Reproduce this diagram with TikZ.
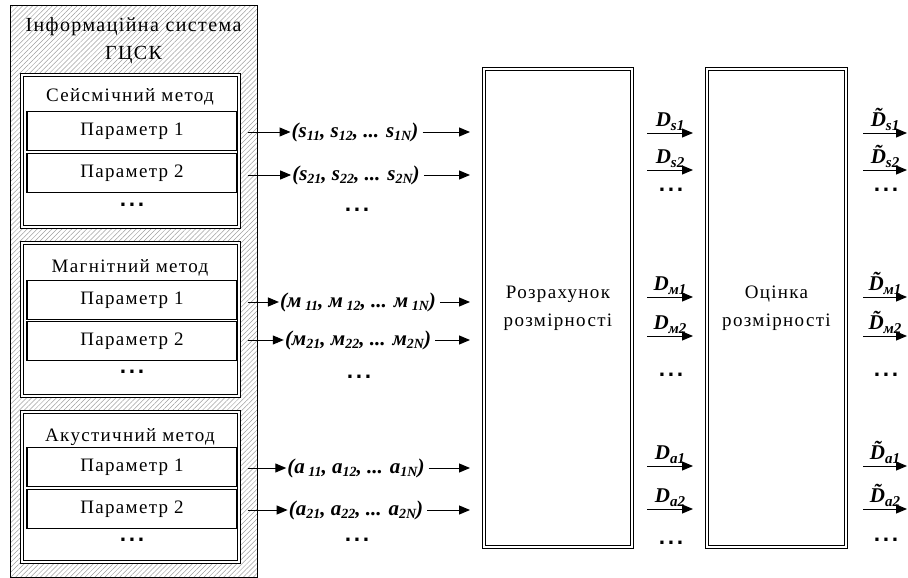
\documentclass[tikz,border=0pt]{standalone}
\usepackage{fontspec}
\setmainfont{Liberation Serif}[LetterSpace=7]
\newfontfamily\labfont{Liberation Serif}
\newfontfamily\dotfont{DejaVu Sans}[LetterSpace=12]
\usetikzlibrary{patterns.meta,arrows.meta}
\newcommand\sbs[1]{\raisebox{-0.4ex}{\fontsize{14}{14}\selectfont #1}}
\newcommand\dsb[1]{\raisebox{-0.45ex}{\fontsize{15}{15}\selectfont #1}}
\newcommand\tD{\~{D}}
\tikzset{
  outerbox/.style={draw, line width=0.8pt, pattern={Lines[angle=45,distance=3.5pt,line width=0.5pt]}, pattern color=gray!75, anchor=north west, inner sep=0pt},
  methodbox/.style={draw, line width=0.9pt, fill=white, anchor=north west, minimum width=220pt, inner sep=0pt},
  innerline/.style={draw, line width=0.9pt},
  parbox/.style={draw, line width=1.1pt, fill=white, minimum width=210pt, minimum height=39pt, font=\fontsize{19}{22}\selectfont},
  ttl/.style={font=\fontsize{19}{22}\selectfont},
  bigbox/.style={draw, line width=0.9pt, anchor=north west, align=center, font=\fontsize{19}{28}\selectfont, inner sep=0pt},
  lab/.style={font=\labfont\bfseries\itshape\fontsize{21}{23}\selectfont, inner sep=1pt},
  dlab/.style={font=\labfont\bfseries\itshape\fontsize{21}{23}\selectfont, inner sep=2pt, above},
  dots/.style={font=\dotfont\bfseries\fontsize{18}{18}\selectfont, inner sep=1pt},
  arr/.style={-{Triangle[length=11pt,width=9pt]}, line width=1pt}
}
\begin{document}
\begin{tikzpicture}[x=1pt,y=-1pt]
\useasboundingbox (0,0) rectangle (908,578);
% outer hatched system box
\node[outerbox, minimum width=247pt, minimum height=572pt] (sys) at (10,5) {};
\node[ttl, align=center, text width=240pt, font=\fontsize{20}{28}\selectfont] (systitle) at (133.5,41) {Інформаційна система\\ГЦСК};
% method boxes (double border)
\node[methodbox, minimum height=155pt] (m1) at (20,73) {};
\node[methodbox, minimum height=156pt] (m2) at (20,241) {};
\node[methodbox, minimum height=153pt] (m3) at (20,410) {};
\foreach \m in {m1,m2,m3}{
  \draw[innerline] ([shift={(3.5pt,-3.5pt)}]\m.north west) rectangle ([shift={(-3.5pt,3.5pt)}]\m.south east);
}
\node[ttl] (t1) at (130,97) {Сейсмічний метод};
\node[ttl] (t2) at (130,268) {Магнітний метод};
\node[ttl] (t3) at (130,437) {Акустичний метод};
\node[parbox] (p11) at (132,131) {Параметр 1};
\node[parbox] (p12) at (132,173) {Параметр 2};
\node[parbox] (p21) at (132,300) {Параметр 1};
\node[parbox] (p22) at (132,341) {Параметр 2};
\node[parbox] (p31) at (132,467) {Параметр 1};
\node[parbox] (p32) at (132,509) {Параметр 2};
\node[dots] (d1) at (132,205) {...};
\node[dots] (d2) at (132,372) {...};
\node[dots] (d3) at (132,540) {...};
% big boxes (double border)
\node[bigbox, minimum width=151pt, minimum height=481pt] (calc) at (482,67) {Розрахунок\\розмірності};
\node[bigbox, minimum width=142pt, minimum height=481pt] (est) at (705,67) {Оцінка\\розмірності};
\foreach \m in {calc,est}{
  \draw[innerline] ([shift={(3.5pt,-3.5pt)}]\m.north west) rectangle ([shift={(-3.5pt,3.5pt)}]\m.south east);
}
% vectors
\node[lab] (l11) at (355,132) {(s\sbs{11}, s\sbs{12}, ... s\sbs{1N})};
\node[lab] (l12) at (356,175) {(s\sbs{21}, s\sbs{22}, ... s\sbs{2N})};
\node[lab] (l21) at (358,302) {(м\sbs{ 11}, м\sbs{ 12}, ... м\sbs{ 1N})};
\node[lab] (l22) at (358,340) {(м\sbs{21}, м\sbs{22}, ... м\sbs{2N})};
\node[lab] (l31) at (356,468) {(a\sbs{ 11}, a\sbs{12}, ... a\sbs{1N})};
\node[lab] (l32) at (356,510) {(a\sbs{21}, a\sbs{22}, ... a\sbs{2N})};
\node[dots] (ld1) at (357,210) {...};
\node[dots] (ld2) at (359,377) {...};
\node[dots] (ld3) at (357,540) {...};
\foreach \p/\l in {p11/l11,p12/l12,p21/l21,p22/l22,p31/l31,p32/l32}{
  \draw[arr] ([xshift=10pt]\p.east |- \l.west) -- (\l.west);
  \draw[arr] ([xshift=3pt]\l.east) -- ([xshift=-12pt]calc.west |- \l.east);
}
% arrows between boxes
\foreach \n/\y in {s1/133,s2/170,m1/297,m2/336,a1/466,a2/509}{
  \coordinate (a\n) at (647,\y);
  \coordinate (b\n) at (693,\y);
  \coordinate (c\n) at (863,\y);
  \coordinate (e\n) at (907,\y);
}
\draw[arr] (as1) -- (bs1) node[dlab, midway] {D\dsb{s1}};
\draw[arr] (as2) -- (bs2) node[dlab, midway] {D\dsb{s2}};
\draw[arr] (am1) -- (bm1) node[dlab, midway] {D\dsb{м1}};
\draw[arr] (am2) -- (bm2) node[dlab, midway] {D\dsb{м2}};
\draw[arr] (aa1) -- (ba1) node[dlab, midway] {D\dsb{a1}};
\draw[arr] (aa2) -- (ba2) node[dlab, midway] {D\dsb{a2}};
\draw[arr] (cs1) -- (es1) node[dlab, midway] {\tD\dsb{s1}};
\draw[arr] (cs2) -- (es2) node[dlab, midway] {\tD\dsb{s2}};
\draw[arr] (cm1) -- (em1) node[dlab, midway] {\tD\dsb{м1}};
\draw[arr] (cm2) -- (em2) node[dlab, midway] {\tD\dsb{м2}};
\draw[arr] (ca1) -- (ea1) node[dlab, midway] {\tD\dsb{a1}};
\draw[arr] (ca2) -- (ea2) node[dlab, midway] {\tD\dsb{a2}};
\node[dots] (dd1) at (671,190) {...};
\node[dots] (dd2) at (671,375) {...};
\node[dots] (dd3) at (671,543) {...};
\node[dots] (od1) at (886,190) {...};
\node[dots] (od2) at (886,375) {...};
\node[dots] (od3) at (886,540) {...};
\end{tikzpicture}
\end{document}
